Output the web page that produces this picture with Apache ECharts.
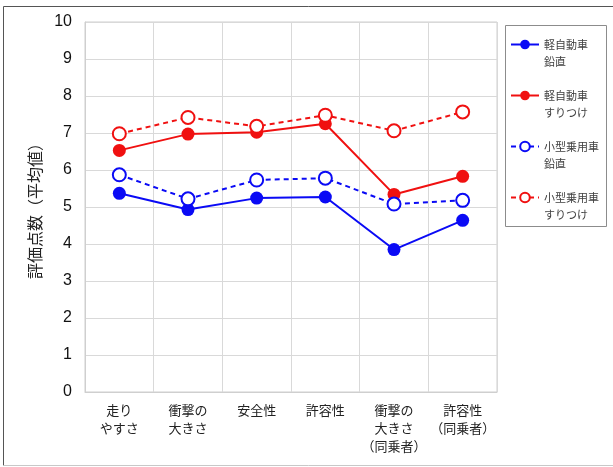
<!DOCTYPE html>
<html>
<head>
<meta charset="utf-8">
<script src="https://cdn.jsdelivr.net/npm/echarts@6/dist/echarts.min.js"></script>
<style>
  html, body { margin: 0; padding: 0; background: #fff; }
  #chart { width: 613px; height: 467px; }
</style>
</head>
<body>
<div id="chart"></div>
<script>
// 評価項目
const categories = ['走り\nやすさ', '衝撃の\n大きさ', '安全性', '許容性', '衝撃の\n大きさ\n（同乗者）', '許容性\n（同乗者）'];

// 評価点数（平均値）
const keiVertical = [5.37, 4.93, 5.24, 5.27, 3.85, 4.64];
const keiSlide    = [6.53, 6.97, 7.02, 7.25, 5.34, 5.83];
const smallVertical = [5.87, 5.22, 5.73, 5.78, 5.08, 5.18];
const smallSlide    = [6.98, 7.42, 7.18, 7.48, 7.06, 7.57];

const seriesNames = ['軽自動車\n鉛直', '軽自動車\nすりつけ', '小型乗用車\n鉛直', '小型乗用車\nすりつけ'];
const yTicks = [0, 10, 1]; // min, max, interval

const BLUE = '#0a0af5';
const RED = '#f01010';
const CJK = '"Noto Sans CJK JP", "Noto Sans", sans-serif';
const LATIN = '"Liberation Sans", Arial, sans-serif';

function lineSeries(name, data, color, dashed) {
  return {
    name: name,
    type: 'line',
    data: data,
    symbol: dashed ? 'emptyCircle' : 'circle',
    symbolSize: 13,
    showAllSymbol: true,
    lineStyle: { color: color, width: 2, type: dashed ? [5, 4] : 'solid' },
    itemStyle: { color: color, borderColor: color, borderWidth: dashed ? 2.4 : 0 },
    emphasis: { disabled: true },
    animation: false
  };
}

const chart = echarts.init(document.getElementById('chart'), null, { renderer: 'canvas' });
chart.setOption({
  backgroundColor: '#fff',
  animation: false,
  grid: {
    left: 85, right: 116, top: 22, bottom: 75,
    show: true, borderColor: '#cfcfcf', borderWidth: 1
  },
  legend: {
    orient: 'vertical',
    left: 510,
    top: 19,
    padding: 0,
    itemWidth: 28,
    itemHeight: 12,
    itemGap: 0,
    selectedMode: false,
    // leading blank line keeps the icon level with the first text line
    formatter: function (name) { return ' \n' + name; },
    textStyle: {
      fontFamily: CJK, fontSize: 11, color: '#404040', lineHeight: 17
    },
    data: seriesNames
  },
  xAxis: {
    type: 'category',
    data: categories,
    boundaryGap: true,
    axisLine: { show: true, lineStyle: { color: '#cfcfcf' } },
    axisTick: { show: false },
    splitLine: { show: true, lineStyle: { color: '#d9d9d9' } },
    axisLabel: {
      interval: 0, margin: 9,
      fontFamily: CJK, fontSize: 13, color: '#222', lineHeight: 18
    }
  },
  yAxis: {
    type: 'value',
    min: yTicks[0], max: yTicks[1], interval: yTicks[2],
    name: '評価点数（平均値）',
    nameLocation: 'middle',
    nameGap: 42,
    nameTextStyle: { fontFamily: CJK, fontSize: 16, color: '#222' },
    axisLine: { show: true, lineStyle: { color: '#cfcfcf' } },
    axisTick: { show: false },
    splitLine: { show: true, lineStyle: { color: '#d9d9d9' } },
    axisLabel: { margin: 13, fontFamily: LATIN, fontSize: 16, color: '#111' }
  },
  graphic: [
    // outer frame
    { type: 'line', shape: { x1: 3.5, y1: 6.5, x2: 613, y2: 6.5 }, style: { stroke: '#555', lineWidth: 1 }, silent: true },
    { type: 'line', shape: { x1: 3.5, y1: 6.5, x2: 3.5, y2: 465.5 }, style: { stroke: '#555', lineWidth: 1 }, silent: true },
    { type: 'line', shape: { x1: 3.5, y1: 465.5, x2: 613, y2: 465.5 }, style: { stroke: '#c8c8c8', lineWidth: 1 }, silent: true },
    // legend frame
    { type: 'rect', shape: { x: 505.5, y: 25.5, width: 101, height: 201 }, style: { fill: 'none', stroke: '#8c8c8c', lineWidth: 1 }, silent: true, z: -1 }
  ],
  series: [
    lineSeries(seriesNames[0], keiVertical, BLUE, false),
    lineSeries(seriesNames[1], keiSlide, RED, false),
    lineSeries(seriesNames[2], smallVertical, BLUE, true),
    lineSeries(seriesNames[3], smallSlide, RED, true)
  ]
});
</script>
</body>
</html>
